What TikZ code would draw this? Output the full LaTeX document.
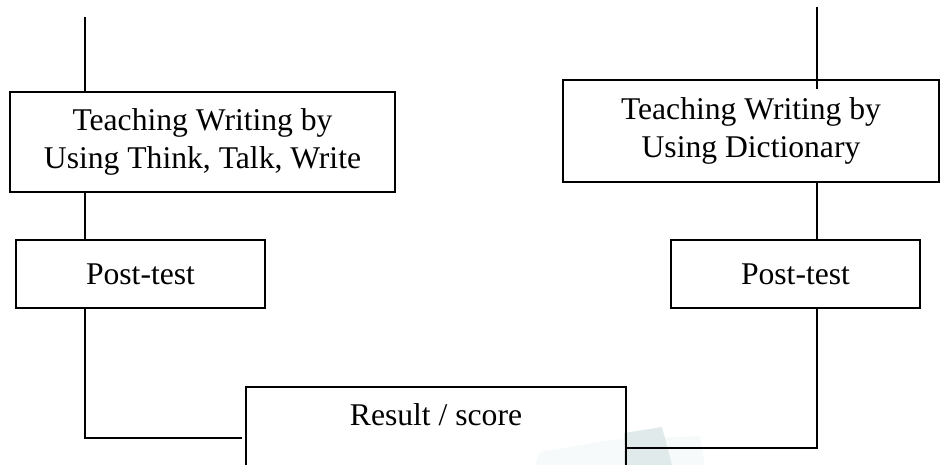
\documentclass[tikz,border=0pt]{standalone}
\usepackage{fontspec}
\setmainfont{Liberation Serif}
\usetikzlibrary{positioning, calc}
\definecolor{wmark}{RGB}{224,234,234}
\definecolor{wmarklight}{RGB}{247,250,250}

\begin{document}
\begin{tikzpicture}[
    x=0.02cm, y=-0.02cm,
    box/.style={draw, line width=1.1pt, align=center, inner sep=0pt,
                font=\fontsize{18}{21.5}\selectfont},
    bigbox/.style={box, minimum height=2cm},
    testbox/.style={box, minimum width=4.98cm, minimum height=1.36cm},
    line/.style={line width=1.1pt}
]
    \clip (0,0) rectangle (942,465);

    % faint mark near the bottom
    \fill[wmarklight] (540,452) -- (610,440) -- (700,436) -- (705,465) -- (535,465) -- cycle;
    \fill[wmark] (624,433) -- (662,427) -- (672,465) -- (624,465) -- cycle;

    \node[bigbox, minimum width=7.7cm] (tw1) at (202.5,142)
        {Teaching Writing by\\Using Think, Talk, Write};
    \node[bigbox, minimum width=7.52cm, minimum height=2.04cm] (tw2) at (751,131)
        {Teaching Writing by\\Using Dictionary};
    \node[testbox] (pt1) at (140.5,274) {Post-test};
    \node[testbox] (pt2) at (795.5,274) {Post-test};
    \node[box, draw=none, minimum width=7.56cm, minimum height=1.08cm] (res) at (436,415)
        {Result / score};

    \coordinate (ltop) at (85,17);
    \coordinate (rtop) at (817,7);
    \coordinate (ljoin) at (0,438);
    \coordinate (rjoin) at (0,448);

    % open box for the result
    \draw[line] ([yshift=-1cm]res.south west) -- (res.north west)
        -- (res.north east) -- ([yshift=-1cm]res.south east);

    \draw[line] (ltop) -- (ltop |- tw1.north);
    \draw[line] (tw1.south -| ltop) -- (pt1.north -| ltop);
    \draw[line] (pt1.south -| ltop) |- ([xshift=-0.08cm]res.west |- ljoin);

    \draw[line] (rtop) -- ([yshift=-0.2cm]tw2.north -| rtop);
    \draw[line] (tw2.south -| rtop) -- (pt2.north -| rtop);
    \draw[line] (pt2.south -| rtop) |- (res.east |- rjoin);
\end{tikzpicture}
\end{document}
